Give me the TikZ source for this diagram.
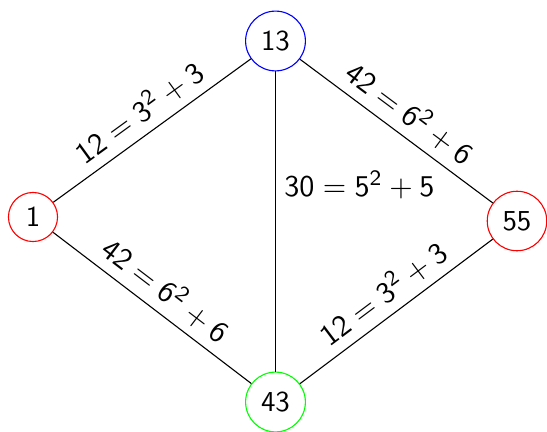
\documentclass[tikz,border=0pt]{standalone}
\usepackage{tikz}
\usetikzlibrary{positioning}
\newcommand{\sqlbl}[3]{$\mathsf{#1} = \mathsf{#2}^{\mathsf{2}} + \mathsf{#3}$}
\tikzset{
  vtx/.style={circle, draw=#1, thin, font=\sffamily\fontsize{10.5}{12.5}\selectfont, inner sep=0.32em},
  lnk/.style={draw=black, thin},
  elbl/.style={font=\sffamily\fontsize{10.9}{13}\selectfont, inner sep=3pt},
}

\begin{document}
\begin{tikzpicture}[x=0.3636pt, y=-0.3636pt]
\useasboundingbox (0,0) rectangle (547,432);

% ============================ vertices ==================================
\node[vtx=red]   (v1)  at (33,217)    {1};
\node[vtx=blue]  (v13) at (275.5,41)  {13};
\node[vtx=red]   (v55) at (517,221)   {55};
\node[vtx=green] (v43) at (275.5,402) {43};

% ============================ edges =====================================
\draw[lnk] (v1) -- node[elbl, above, sloped] {\sqlbl{12}{3}{3}} (v13);
\draw[lnk] (v13) -- node[elbl, above, sloped] {\sqlbl{42}{6}{6}} (v55);
\draw[lnk] (v1) -- node[elbl, above, sloped] {\sqlbl{42}{6}{6}} (v43);
\draw[lnk] (v43) -- node[elbl, above, sloped] {\sqlbl{12}{3}{3}} (v55);
\draw[lnk] (v13) -- node[elbl, right, pos=0.38] {\sqlbl{30}{5}{5}} (v43);

\end{tikzpicture}
\end{document}
